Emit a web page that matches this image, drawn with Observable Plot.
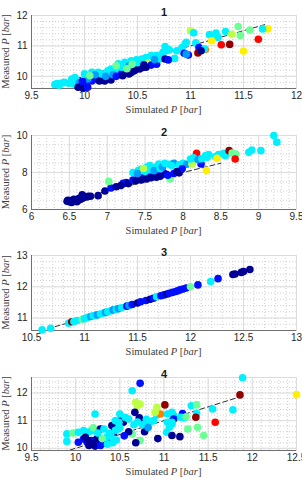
<!DOCTYPE html>
<html>
<head>
<meta charset="utf-8">
<script src="https://cdn.jsdelivr.net/npm/d3@7"></script>
<script src="https://cdn.jsdelivr.net/npm/@observablehq/plot@0.6"></script>
<style>
  html, body { margin: 0; padding: 0; background: #fff; }
  #chart { width: 302px; }
  #chart svg { display: block; }
</style>
</head>
<body>
<div id="chart"></div>
<script>
// ---- Data: [simulated P, measured P, colour class] per panel ----
const panelTitles = ["1", "2", "3", "4"];

const points1 = [
  [9.72,9.73,"C"],[9.74,9.76,"C"],[9.78,9.77,"C"],[9.81,9.8,"C"],[9.76,9.71,"C"],[9.85,9.77,"C"],
  [9.88,9.91,"C"],[9.91,9.96,"C"],[9.9,9.75,"C"],[9.95,9.79,"L"],
  [9.94,9.64,"D"],[9.99,9.61,"D"],[9.97,9.66,"D"],[10.03,9.64,"B"],
  [10.02,9.8,"B"],[10.07,9.85,"B"],[10.11,9.91,"B"],[10.03,9.91,"L"],[9.98,9.84,"B"],
  [10.14,9.85,"D"],[10.19,9.85,"D"],[10.22,9.91,"D"],[10.17,9.88,"D"],[10.25,9.88,"D"],
  [10.0,10.08,"C"],[10.07,10.13,"C"],[10.13,10.13,"C"],[10.16,10.08,"C"],[10.22,10.18,"C"],
  [10.25,10.24,"C"],[10.1,10.05,"L"],[10.05,10.02,"A"],
  [10.28,10.15,"C"],[10.3,10.2,"C"],[10.27,10.05,"L"],[10.2,10.0,"L"],
  [10.35,10.08,"B"],[10.38,10.13,"B"],[10.4,10.18,"B"],[10.3,10.0,"B"],
  [10.36,10.02,"D"],[10.44,10.13,"D"],[10.49,10.24,"D"],[10.52,10.24,"D"],[10.55,10.29,"D"],
  [10.42,10.08,"D"],[10.47,10.18,"D"],
  [10.32,10.41,"C"],[10.38,10.46,"C"],[10.44,10.51,"C"],[10.49,10.54,"C"],[10.54,10.57,"C"],
  [10.58,10.62,"C"],[10.63,10.68,"C"],[10.68,10.68,"C"],[10.35,10.3,"C"],[10.42,10.35,"L"],
  [10.5,10.45,"C"],[10.4,10.25,"A"],[10.45,10.4,"A"],[10.3,10.35,"A"],
  [10.6,10.43,"G"],
  [10.63,10.37,"B"],[10.68,10.4,"B"],[10.58,10.3,"D"],[10.56,10.38,"D"],
  [10.71,10.57,"C"],[10.74,10.62,"C"],[10.66,10.55,"L"],
  [10.74,10.79,"C"],[10.76,10.98,"C"],[10.77,10.84,"C"],[10.8,10.87,"C"],[10.87,10.84,"C"],
  [10.92,10.95,"C"],[10.95,11.07,"C"],[10.96,11.12,"C"],[10.85,10.59,"C"],
  [10.76,10.57,"D"],[10.79,10.54,"B"],[10.94,10.76,"B"],[10.98,10.7,"B"],[10.96,10.73,"L"],
  [11.0,11.5,"G"],[11.03,11.43,"C"],[11.05,11.1,"C"],[11.08,10.95,"B"],[11.07,10.77,"K"],
  [11.14,10.88,"O"],[11.13,10.9,"C"],[11.1,10.84,"D"],
  [11.24,11.42,"C"],[11.18,11.37,"C"],[11.23,11.31,"C"],[11.26,11.28,"C"],[11.2,11.17,"Y"],
  [11.29,11.04,"R"],[11.37,11.05,"K"],[11.5,10.83,"Y"],[11.64,11.22,"R"],[11.73,11.56,"Y"],
  [11.68,11.56,"C"],[11.56,11.52,"A"],[11.47,11.34,"A"],[11.45,11.64,"A"],[11.33,11.47,"C"],
  [11.39,11.38,"G"]
];

const points2 = [
  [6.47,6.45,"D"],[6.5,6.42,"D"],[6.52,6.48,"D"],[6.55,6.45,"D"],[6.58,6.5,"D"],[6.6,6.48,"D"],
  [6.62,6.52,"D"],[6.65,6.55,"D"],[6.67,6.8,"D"],[6.7,6.7,"D"],[6.73,6.68,"D"],[6.75,6.72,"D"],
  [6.78,6.72,"D"],[6.6,6.42,"D"],[6.53,6.38,"D"],[6.48,6.5,"D"],[6.56,6.55,"D"],[6.63,6.6,"D"],
  [6.68,6.62,"D"],[6.88,6.75,"D"],[6.97,7.0,"D"],
  [7.05,7.16,"B"],[7.12,7.23,"D"],[7.21,7.41,"B"],[7.25,7.46,"B"],[7.18,7.3,"D"],[7.28,7.4,"D"],
  [7.02,7.52,"A"],
  [7.34,7.59,"B"],[7.41,7.68,"B"],[7.48,7.73,"B"],[7.54,7.77,"B"],[7.61,7.83,"B"],[7.68,7.92,"B"],
  [7.74,8.0,"B"],[7.38,7.55,"D"],[7.45,7.6,"D"],[7.52,7.65,"D"],[7.58,7.72,"D"],[7.65,7.75,"D"],
  [7.7,7.8,"D"],[7.78,7.9,"D"],
  [7.34,8.0,"C"],[7.41,8.1,"C"],[7.45,8.19,"C"],[7.52,8.28,"C"],[7.56,8.37,"C"],[7.63,8.28,"C"],
  [7.68,8.46,"C"],[7.4,7.95,"L"],[7.5,8.05,"C"],[7.58,8.15,"C"],[7.62,8.1,"L"],[7.7,8.2,"C"],
  [7.73,8.3,"L"],[7.48,8.22,"G"],[7.83,7.65,"A"],
  [7.76,8.5,"C"],[7.82,8.45,"C"],[7.88,8.5,"L"],[7.95,8.42,"C"],[8.0,8.5,"C"],[8.05,8.45,"L"],
  [8.12,8.5,"C"],[7.85,8.38,"C"],
  [7.8,7.85,"B"],[7.88,7.95,"B"],[7.95,7.98,"D"],[7.99,8.2,"B"],[7.92,8.05,"D"],
  [8.12,8.46,"G"],[8.24,8.46,"B"],[8.31,8.1,"Y"],[8.18,9.04,"R"],
  [8.1,8.73,"C"],[8.14,8.79,"C"],[8.3,8.91,"C"],[8.34,8.97,"C"],[8.32,8.82,"C"],[8.2,8.7,"L"],
  [8.25,8.75,"C"],
  [8.43,8.86,"C"],[8.47,8.97,"C"],[8.54,9.04,"C"],[8.56,8.91,"C"],[8.63,9.09,"C"],
  [8.45,8.77,"Y"],[8.61,9.18,"K"],[8.65,9.05,"A"],[8.7,9.0,"A"],[8.69,8.73,"R"],
  [8.87,9.09,"C"],[8.91,9.22,"C"],[9.03,9.18,"C"],[9.2,10.0,"C"],[9.24,9.64,"C"]
];

const points3 = [
  [10.6,10.62,"C"],[10.68,10.67,"C"],[10.85,10.83,"C"],[10.88,10.88,"K"],[10.9,10.89,"C"],
  [10.93,10.92,"C"],[10.98,10.96,"A"],[11.0,10.98,"C"],[11.03,11.02,"C"],[11.06,11.05,"L"],
  [11.08,11.07,"C"],[11.1,11.09,"C"],[11.12,11.1,"L"],[11.15,11.13,"C"],[11.18,11.16,"C"],
  [11.2,11.18,"L"],[11.22,11.2,"C"],[11.25,11.23,"C"],[11.27,11.26,"L"],[11.3,11.28,"C"],
  [11.32,11.3,"L"],[11.35,11.33,"C"],[11.4,11.38,"B"],[11.42,11.4,"L"],[11.45,11.43,"B"],
  [11.5,11.48,"D"],[11.53,11.52,"B"],[11.58,11.56,"B"],[11.62,11.6,"D"],[11.65,11.63,"B"],
  [11.68,11.68,"C"],[11.72,11.71,"B"],[11.75,11.74,"B"],[11.78,11.77,"D"],[11.8,11.79,"B"],
  [11.83,11.82,"B"],[11.86,11.85,"B"],[11.88,11.87,"B"],[11.9,11.9,"B"],[11.93,11.93,"B"],
  [11.96,11.96,"B"],[12.0,12.0,"A"],[12.07,12.06,"B"],[12.19,12.17,"C"],[12.26,12.26,"B"],
  [12.4,12.39,"D"],[12.42,12.41,"D"],[12.48,12.46,"D"],[12.5,12.49,"D"],[12.56,12.55,"D"]
];

const points4 = [
  [9.9,10.52,"C"],[9.9,10.25,"C"],[9.97,10.55,"A"],[10.03,10.58,"C"],[10.09,10.64,"C"],
  [10.14,10.58,"C"],[10.18,10.64,"C"],
  [10.03,10.22,"B"],[10.09,10.34,"B"],[10.13,10.22,"B"],[10.18,10.28,"B"],
  [10.11,10.4,"D"],[10.14,10.28,"D"],[10.18,10.16,"D"],[10.24,10.34,"D"],[10.28,10.22,"D"],
  [10.32,10.18,"D"],[10.35,10.28,"D"],[10.15,10.1,"D"],[10.22,10.08,"D"],[10.28,10.1,"B"],
  [10.22,11.24,"C"],[10.2,10.74,"A"],
  [10.28,10.7,"D"],[10.41,10.82,"D"],[10.52,11.03,"D"],[10.54,10.94,"D"],[10.43,10.58,"D"],
  [10.32,10.7,"C"],[10.35,10.4,"C"],[10.4,10.45,"C"],[10.45,10.65,"C"],[10.48,10.7,"C"],
  [10.5,10.75,"C"],[10.38,10.55,"C"],[10.46,10.3,"C"],[10.36,10.15,"C"],[10.3,10.35,"A"],
  [10.25,10.55,"C"],[10.42,10.2,"C"],
  [10.5,11.24,"C"],[10.45,11.0,"C"],[10.49,10.94,"C"],[10.56,11.12,"C"],[10.6,11.06,"C"],
  [10.64,10.52,"A"],[10.73,10.28,"A"],[10.64,12.08,"C"],[10.73,12.35,"B"],
  [10.68,11.66,"G"],[10.73,11.6,"G"],[10.7,11.54,"G"],
  [10.67,11.3,"D"],[10.72,11.1,"D"],[10.76,10.95,"D"],[10.78,10.6,"D"],[10.68,10.2,"D"],
  [10.6,10.6,"D"],[10.55,10.45,"B"],[10.93,10.35,"D"],
  [10.66,10.85,"C"],[10.7,10.95,"C"],[10.76,10.85,"C"],[10.8,11.05,"C"],[10.84,10.95,"C"],
  [10.88,11.0,"C"],[10.92,11.2,"C"],[10.82,10.75,"L"],
  [10.92,11.48,"G"],[11.01,11.57,"K"],[10.96,11.24,"O"],[10.9,11.3,"G"],
  [11.04,11.24,"C"],[11.09,11.3,"C"],[11.11,11.18,"C"],[11.11,11.06,"B"],[11.21,11.26,"B"],
  [11.04,10.94,"C"],[11.09,10.94,"C"],[11.19,11.12,"C"],[11.23,11.1,"C"],[11.03,10.58,"C"],
  [11.06,10.76,"C"],[11.09,10.88,"C"],
  [11.27,10.7,"A"],[11.38,10.76,"A"],[11.45,10.46,"A"],[11.25,11.14,"A"],
  [11.09,10.46,"D"],[11.18,10.42,"D"],
  [11.31,11.54,"C"],[11.37,11.26,"C"],[11.37,11.57,"A"],[11.36,11.12,"K"],[11.55,11.42,"C"],
  [11.58,10.94,"R"],[11.78,11.39,"C"],[11.86,11.93,"K"],[11.89,12.55,"C"],[12.5,11.94,"Y"]
];

// Axis settings
const xDomains = [[9.5, 12], [6, 9.5], [10.5, 13], [9.5, 12.5]];
const yDomains = [[9.6, 12], [6, 10], [10.6, 13], [9.92, 12.56]];
const xTicks = [
  [9.5, 10, 10.5, 11, 11.5, 12],
  [6, 6.5, 7, 7.5, 8, 8.5, 9, 9.5],
  [10.5, 11, 11.5, 12, 12.5, 13],
  [9.5, 10, 10.5, 11, 11.5, 12, 12.5]
];
const yTicks = [[10, 11, 12], [6, 8, 10], [11, 12, 13], [10, 11, 12]];
const yMinorStep = [0.2, 0.5, 0.2, 0.2];
// Extent of the dashed y = x reference line in each panel
const refLine = [[9.7, 11.7], [6.92, 8.5], [10.65, 12.0], [9.85, 11.9]];

// Colour classes -> position on the jet colormap
const colorLevel = {D: 0.02, B: 0.14, L: 0.28, C: 0.36, A: 0.48, G: 0.56, Y: 0.64, O: 0.75, R: 0.87, K: 0.98};
const jetStops = [0, 0.125, 0.375, 0.625, 0.875, 1];
const jetColors = ["#000080", "#0000ff", "#00ffff", "#ffff00", "#ff0000", "#800000"];

const allPoints = [points1, points2, points3, points4];
const W = 302, H = 120, ML = 31, MR = 6;
const margins = [[15, 32], [15, 31], [15, 30], [17, 30]];

function minorTicks(domain, step) {
  const [a, b] = domain;
  const out = [];
  const start = Math.ceil(a / step - 1e-9);
  for (let k = start; k * step <= b + 1e-9; k++) out.push(+(k * step).toFixed(4));
  return out;
}

const chart = document.getElementById("chart");

allPoints.forEach((pts, i) => {
  const data = pts.map(([x, y, c]) => ({x, y, c: colorLevel[c]}));
  const [mt, mb] = margins[i];
  const xd = xDomains[i], yd = yDomains[i];
  const minorX = minorTicks(xd, 0.1);
  const minorY = minorTicks(yd, yMinorStep[i]);
  const svg = Plot.plot({
    width: W, height: H,
    marginTop: mt, marginBottom: mb, marginLeft: ML, marginRight: MR,
    style: {fontFamily: "'Liberation Sans', Arial, Helvetica, sans-serif", fontSize: "10px", color: "#262626", background: "#fff", overflow: "visible"},
    x: {domain: xd},
    y: {domain: yd},
    color: {type: "linear", domain: jetStops, range: jetColors, interpolate: "rgb"},
    marks: [
      Plot.ruleX(minorX, {stroke: "#c4c4c4", strokeWidth: 0.8, strokeDasharray: "1,2"}),
      Plot.ruleY(minorY, {stroke: "#c4c4c4", strokeWidth: 0.8, strokeDasharray: "1,2"}),
      Plot.gridX(xTicks[i], {stroke: "#dcdcdc", strokeOpacity: 1}),
      Plot.gridY(yTicks[i], {stroke: "#dcdcdc", strokeOpacity: 1}),
      Plot.frame({stroke: "#dcdcdc"}),
      Plot.ruleX([xd[0]], {stroke: "#707070"}),
      Plot.ruleY([yd[0]], {stroke: "#707070"}),
      Plot.axisX(xTicks[i], {tickSize: 0, tickPadding: 3, tickFormat: d => String(d), label: null}),
      Plot.axisY(yTicks[i], {tickSize: 0, tickPadding: 4, tickFormat: d => String(d), label: null}),
      Plot.line(refLine[i], {x: d => d, y: d => d, stroke: "#303030", strokeWidth: 1, strokeDasharray: "5,3", clip: true}),
      Plot.dot(data, {x: "x", y: "y", fill: "c", r: 3.8}),
      Plot.text([panelTitles[i]], {frameAnchor: "top", dy: -7, fontWeight: "bold", fontSize: 11, fill: "#1a1a1a"})
    ]
  });
  const s = d3.select(svg);
  const serif = "'Liberation Serif', 'Times New Roman', serif";
  const xl = s.append("text")
    .attr("x", (ML + W - MR) / 2).attr("y", H - mb + 25)
    .attr("text-anchor", "middle").attr("font-family", serif).attr("font-size", 10.5).attr("fill", "#404040");
  xl.append("tspan").text("Simulated ");
  xl.append("tspan").attr("font-style", "italic").text("P");
  xl.append("tspan").text(" [");
  xl.append("tspan").attr("font-style", "italic").text("bar");
  xl.append("tspan").text("]");
  const yc = mt + (H - mt - mb) / 2;
  const yl = s.append("text")
    .attr("transform", `translate(9,${yc}) rotate(-90)`)
    .attr("text-anchor", "middle").attr("font-family", serif).attr("font-size", 10.5).attr("fill", "#404040");
  yl.append("tspan").text("Measured ");
  yl.append("tspan").attr("font-style", "italic").text("P");
  yl.append("tspan").text(" [");
  yl.append("tspan").attr("font-style", "italic").text("bar");
  yl.append("tspan").text("]");
  chart.appendChild(svg);
});
</script>
</body>
</html>
